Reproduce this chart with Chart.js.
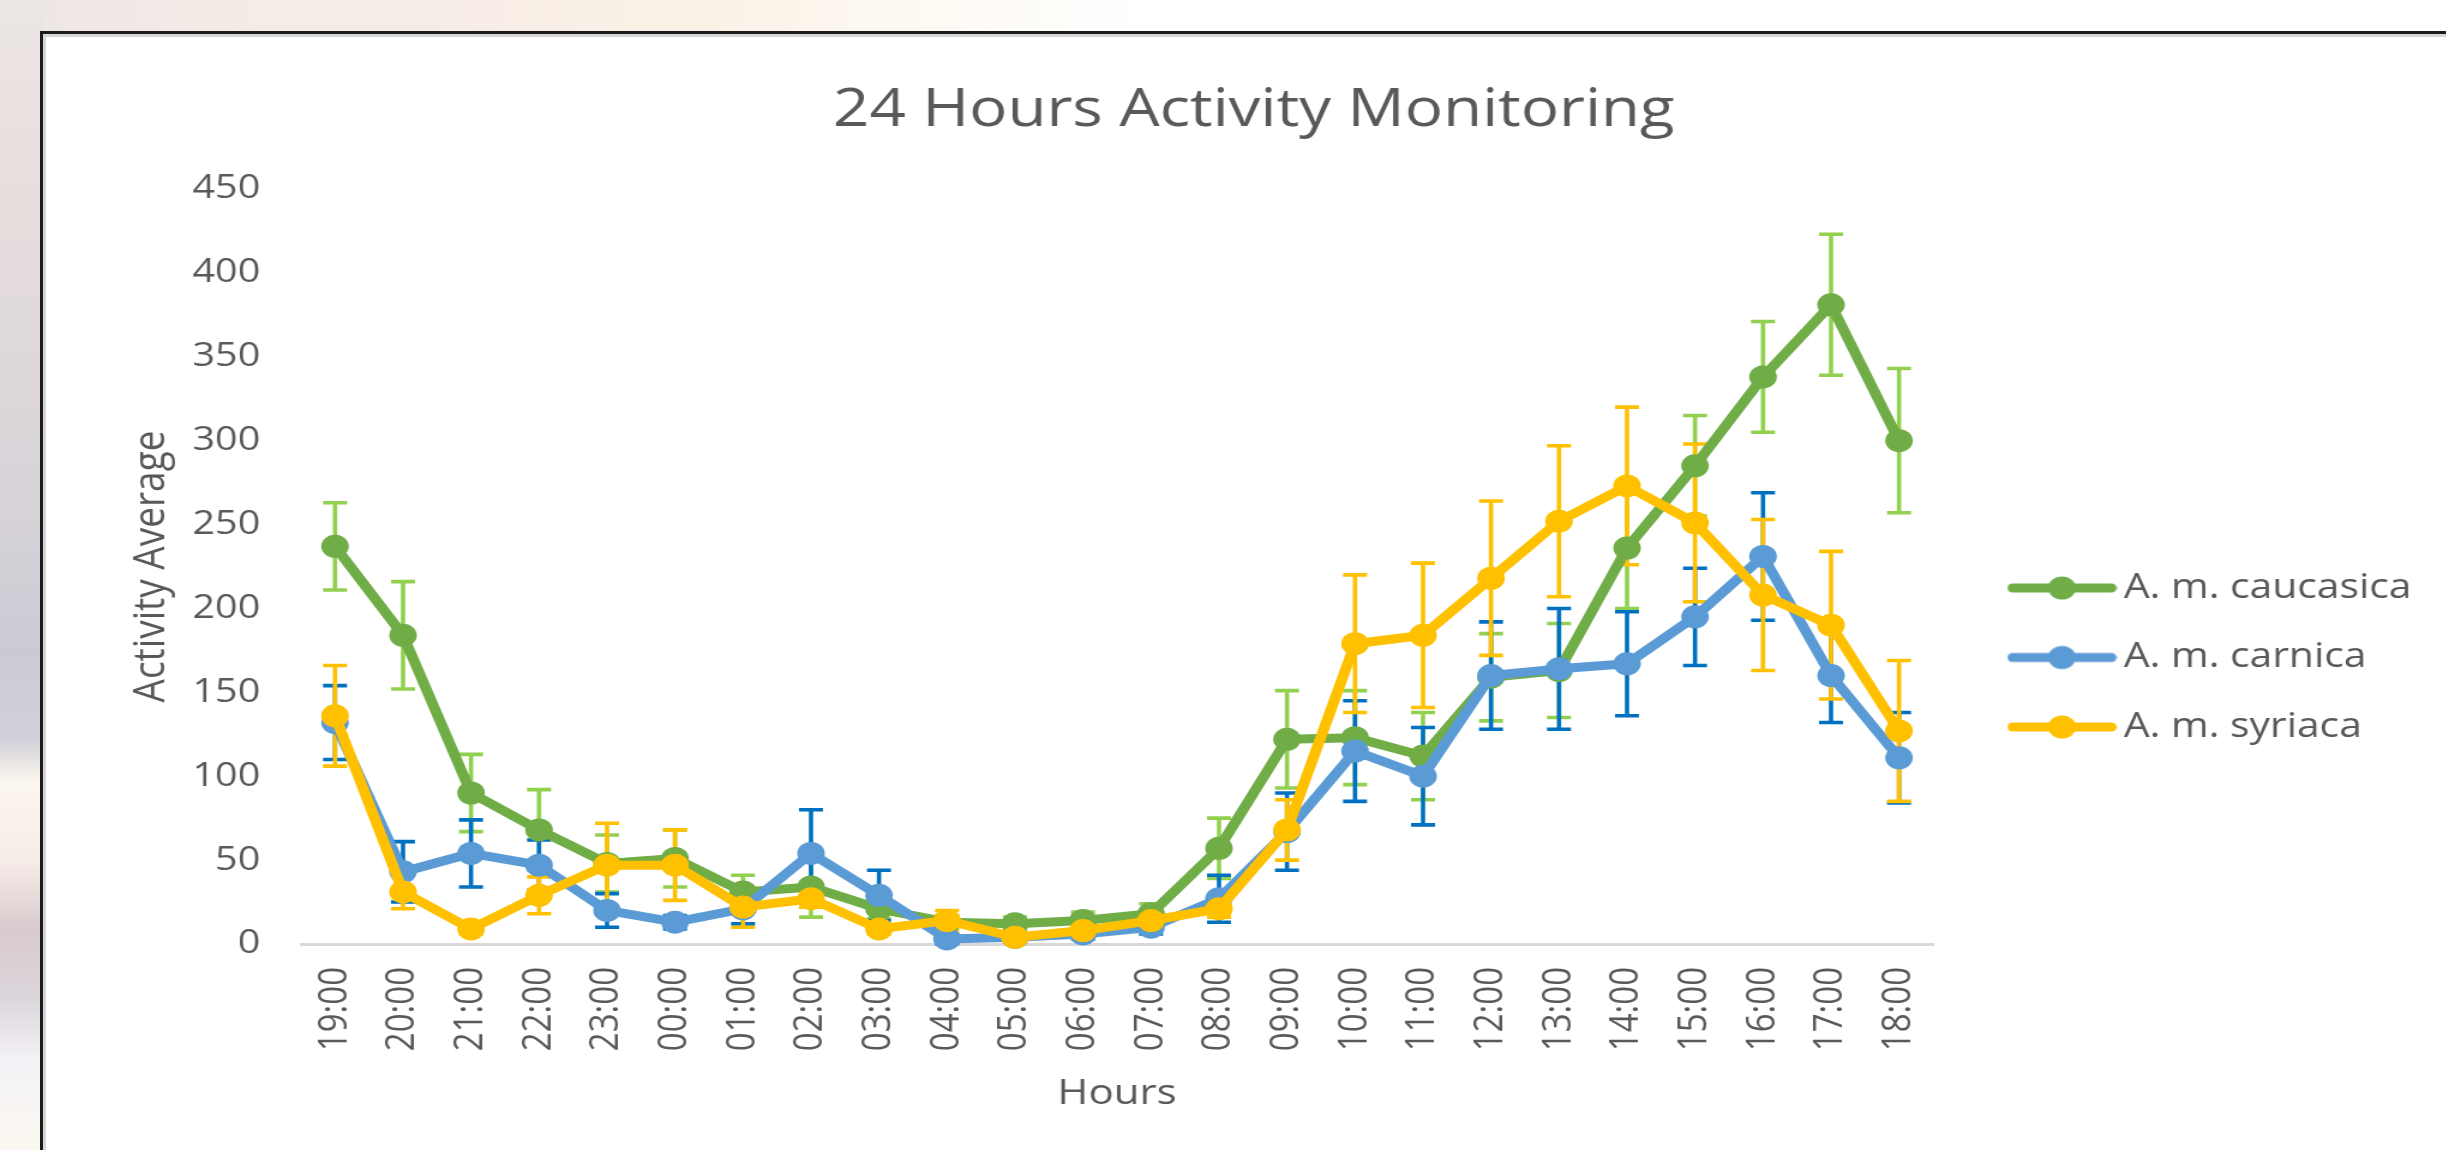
<!DOCTYPE html>
<html>
<head>
<meta charset="utf-8">
<title>24 Hours Activity Monitoring</title>
<script src="https://cdn.jsdelivr.net/npm/chart.js@4.4.1/dist/chart.umd.min.js"></script>
<style>
  html,body{margin:0;padding:0;width:2446px;height:1150px;overflow:hidden;background:#fbf8f6;}
  #bgTop{position:absolute;left:0;top:0;width:2446px;height:40px;
    background:linear-gradient(90deg,#ece6e4 0px,#f4ebe7 200px,#f6ece6 420px,#faf1e6 700px,#fdf9f2 900px,#ffffff 1150px,#ffffff 2446px);}
  #bgLeft{position:absolute;left:0;top:0;width:45px;height:1150px;
    background:linear-gradient(180deg,#ece6e4 0px,#e4dcdc 250px,#d6d2d8 520px,#cbcad3 650px,#d2d0d8 740px,#fbf6ef 780px,#f6ece8 860px,#d8cacd 930px,#dcd6dd 1000px,#f3f1f6 1060px,#fcf8f1 1150px);}
  #frame{position:absolute;left:40px;top:31px;width:3000px;height:2000px;background:#fff;
    border-left:3px solid #1b1b1b;border-top:3px solid #1b1b1b;box-shadow:inset 3px 3px 0 #d6d6d6;}
  #wrap{position:absolute;left:43px;top:34px;width:2002px;height:1247px;transform:scaleX(1.2);transform-origin:0 0;}
</style>
</head>
<body>
<div id="bgTop"></div>
<div id="bgLeft"></div>
<div id="frame"></div>
<div id="wrap"><canvas id="chart" width="2002" height="1247"></canvas></div>
<script>
// ─── DATA ───────────────────────────────────────────────────────────
const HOURS = ['19:00','20:00','21:00','22:00','23:00','00:00','01:00','02:00','03:00','04:00','05:00','06:00',
               '07:00','08:00','09:00','10:00','11:00','12:00','13:00','14:00','15:00','16:00','17:00','18:00'];
const SERIES_NAMES = ['A. m. caucasica','A. m. carnica','A. m. syriaca'];
const CAUCASICA     = [237,184,90,68,48,51,31,34,21,13,12,14,18,57,122,123,112,159,163,236,285,338,381,300];
const CAUCASICA_ERR = [26,32,23,24,17,17,10,18,6,4,4,5,6,18,29,28,26,26,28,36,30,33,42,43];
const CARNICA       = [132,43,54,47,20,13,21,54,29,3,4,6,10,27,67,115,100,160,164,167,195,231,160,111];
const CARNICA_ERR   = [22,18,20,15,10,4,9,26,15,3,3,3,4,14,23,30,29,32,36,31,29,38,28,27];
const SYRIACA       = [136,31,9,29,47,47,22,27,9,14,4,8,14,21,68,179,184,218,252,273,251,208,190,127];
const SYRIACA_ERR   = [30,10,3,11,25,21,12,5,3,6,2,3,4,5,18,41,43,46,45,47,47,45,44,42];
const Y_TICKS = {min:0, max:450, step:50};

const LINE_COLORS = ['#70AD47','#5B9BD5','#FFC000'];
const ERR_COLORS  = ['#92D050','#0070C0','#FFC000'];
const TEXT = '#595959';
const FONT = "'Open Sans'";

// ─── LAYOUT (canvas units, before the 1.2 horizontal stretch) ───────
const W = 2002;
const LEG_FS = 34, LEG_PAD = 35.5, LEG_BOX = 69;
const LEG_LEFT = 1612.5, PLOT_LEFT = 215, PLOT_RIGHT = 1575, TITLE_CX = 1009, YTITLE_CX = 90.4;
const mctx = document.createElement('canvas').getContext('2d');
mctx.font = LEG_FS + "px " + FONT;
const legTextW = Math.max(...SERIES_NAMES.map(t=>mctx.measureText(t).width));
const legendW = LEG_PAD + LEG_BOX + LEG_FS/2 + legTextW + 10;
const padRight = W - LEG_LEFT - legendW;
const padLeft = Math.max(0, 2*TITLE_CX - LEG_LEFT - legendW);

// ─── LEGEND MARKERS (line + dot) ────────────────────────────────────
function legendMarker(color){
  const c=document.createElement('canvas'); c.width=92; c.height=26;
  const g=c.getContext('2d');
  g.strokeStyle=color; g.lineWidth=9; g.lineCap='round';
  g.beginPath(); g.moveTo(5,13); g.lineTo(87,13); g.stroke();
  g.fillStyle=color; g.beginPath(); g.arc(46,13,11.5,0,Math.PI*2); g.fill();
  return c;
}
const markers = LINE_COLORS.map(legendMarker);

// ─── ERROR BARS ─────────────────────────────────────────────────────
const errorBars = {
  id:'errorBars',
  beforeDatasetsDraw(chart){
    const {ctx, scales:{x,y}} = chart;
    chart.data.datasets.forEach((ds)=>{
      ctx.save();
      ctx.strokeStyle=ds.errorColor; ctx.lineWidth=3.6;
      ds.errors.forEach((e,j)=>{
        const px=x.getPixelForValue(j), hi=y.getPixelForValue(ds.data[j]+e), lo=y.getPixelForValue(ds.data[j]-e), cap=10;
        ctx.beginPath();
        ctx.moveTo(px,hi); ctx.lineTo(px,lo);
        ctx.moveTo(px-cap,hi); ctx.lineTo(px+cap,hi);
        ctx.moveTo(px-cap,lo); ctx.lineTo(px+cap,lo);
        ctx.stroke();
      });
      ctx.restore();
    });
  }
};

function series(i,data,errors,order){
  return {label:SERIES_NAMES[i],data,errors,errorColor:ERR_COLORS[i],order,
    borderColor:LINE_COLORS[i],backgroundColor:LINE_COLORS[i],borderWidth:9,
    borderCapStyle:'round',borderJoinStyle:'round',tension:0,clip:false,
    pointRadius:11.5,pointHoverRadius:11.5,pointBorderWidth:0,pointBackgroundColor:LINE_COLORS[i]};
}

new Chart(document.getElementById('chart'),{
  type:'line',
  data:{labels:HOURS,datasets:[series(0,CAUCASICA,CAUCASICA_ERR,3),series(1,CARNICA,CARNICA_ERR,2),series(2,SYRIACA,SYRIACA_ERR,1)]},
  plugins:[errorBars],
  options:{
    responsive:false,animation:false,
    layout:{padding:{left:padLeft,right:padRight,top:0,bottom:0}},
    plugins:{
      tooltip:{enabled:false},
      title:{display:true,text:'24 Hours Activity Monitoring',color:TEXT,
        font:{family:FONT,size:53,weight:'normal'},padding:{top:45.2,bottom:46.2}},
      legend:{position:'right',align:'center',
        labels:{usePointStyle:true,pointStyleWidth:LEG_BOX,padding:LEG_PAD,color:TEXT,
          font:{family:FONT,size:LEG_FS},
          generateLabels:chart=>chart.data.datasets.map((ds,i)=>({text:ds.label,fillStyle:ds.borderColor,
            strokeStyle:ds.borderColor,lineWidth:0,pointStyle:markers[i],fontColor:TEXT,datasetIndex:i,hidden:false}))}}
    },
    scales:{
      x:{offset:true,grid:{display:false,drawTicks:false},border:{display:true,color:'#D9D9D9',width:3},
        ticks:{autoSkip:false,minRotation:90,maxRotation:90,padding:23,color:TEXT,font:{family:FONT,size:33}},
        title:{display:true,text:'Hours',color:TEXT,font:{family:FONT,size:35},padding:{top:0,bottom:166}},
        afterFit:s=>{s.height=337;}},
      y:{min:Y_TICKS.min,max:Y_TICKS.max,grid:{display:false,drawTicks:false},border:{display:false},
        ticks:{stepSize:Y_TICKS.step,padding:34,color:TEXT,font:{family:FONT,size:33}},
        title:{display:true,text:'Activity Average',color:TEXT,font:{family:FONT,size:37},
          padding:{top:YTITLE_CX-padLeft-22.2,bottom:0}},
        afterFit:s=>{s.width=PLOT_LEFT-padLeft;}},
      y2:{position:'right',display:false,afterFit:s=>{s.width=LEG_LEFT-PLOT_RIGHT;}}
    }
  }
});
</script>
</body>
</html>
